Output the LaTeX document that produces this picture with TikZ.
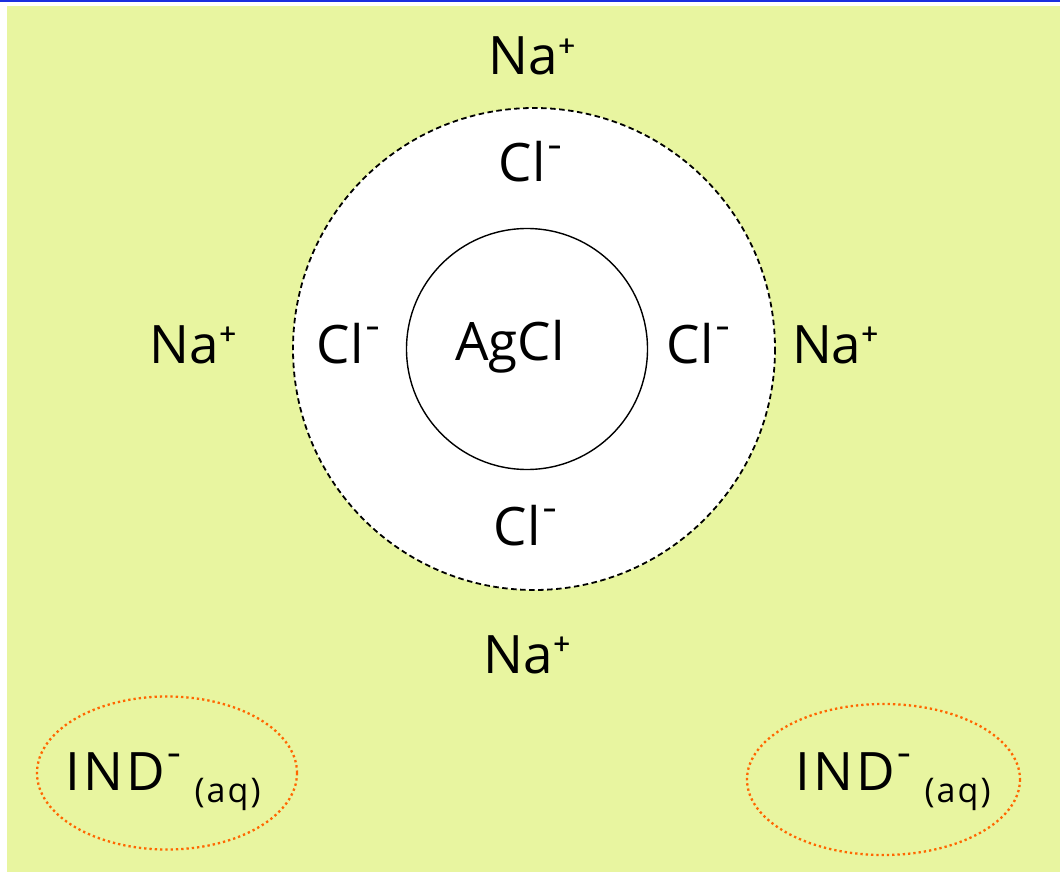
\documentclass[tikz,border=0pt]{standalone}
\usepackage{fontspec}
\setmainfont{Open Sans}
\definecolor{bgg}{RGB}{232,245,160}
\definecolor{topblue}{RGB}{26,47,224}
\definecolor{dotor}{RGB}{255,102,0}
\newcommand\plusup{\raisebox{19pt}{\fontsize{29}{30}\selectfont\addfontfeatures{FakeBold=1.5}+}}
\newcommand\minup{\hspace{2pt}\raisebox{27pt}{\fontsize{30}{32}\selectfont\addfontfeatures{FakeBold=1.5}\scalebox{1.4}[1]{-}}}
\newcommand\aqsub{\raisebox{-12pt}{\fontsize{34}{36}\selectfont (aq)}}
\begin{document}
\begin{tikzpicture}[x=1pt,y=-1pt,
  ion/.style={anchor=base,inner sep=0pt,font=\fontsize{53}{60}\selectfont},
  outer/.style={draw=black,line width=1.8pt,dash pattern=on 5.5pt off 3.5pt,fill=white},
  inner/.style={draw=black,line width=1.4pt},
  indov/.style={draw=dotor,line width=2.3pt,dash pattern=on 2.3pt off 3pt}]
\useasboundingbox (0,0) rectangle (1060,872);
\fill[white] (0,0) rectangle (1060,872);
\fill[bgg] (7,6) rectangle (1060,872);
\fill[topblue] (0,0) rectangle (1060,2.5);
% circles
\draw[outer] (534,349) circle (241);
\draw[inner] (527,349) circle (120.5);
% ellipses
\draw[indov] (167,773) ellipse (130 and 76.5);
\draw[indov] (883.5,779.5) ellipse (136.5 and 75.5);
% text
\node[ion] (naT) at (532,75) {Na\plusup};
\node[ion] (clT) at (530,182) {Cl\minup};
\node[ion] (naL) at (193,363) {Na\plusup};
\node[ion] (clL) at (348,363) {Cl\minup};
\node[ion] (agcl) at (510,360) {AgCl};
\node[ion] (clR) at (698,363) {Cl\minup};
\node[ion] (naR) at (835,363) {Na\plusup};
\node[ion] (clB) at (525,545) {Cl\minup};
\node[ion] (naB) at (527,673) {Na\plusup};
\node[ion] (indL) at (163,790) {\addfontfeatures{LetterSpace=6}IND\minup\hspace{14pt}\aqsub};
\node[ion] (indR) at (893,790) {\addfontfeatures{LetterSpace=6}IND\minup\hspace{14pt}\aqsub};
\end{tikzpicture}
\end{document}
